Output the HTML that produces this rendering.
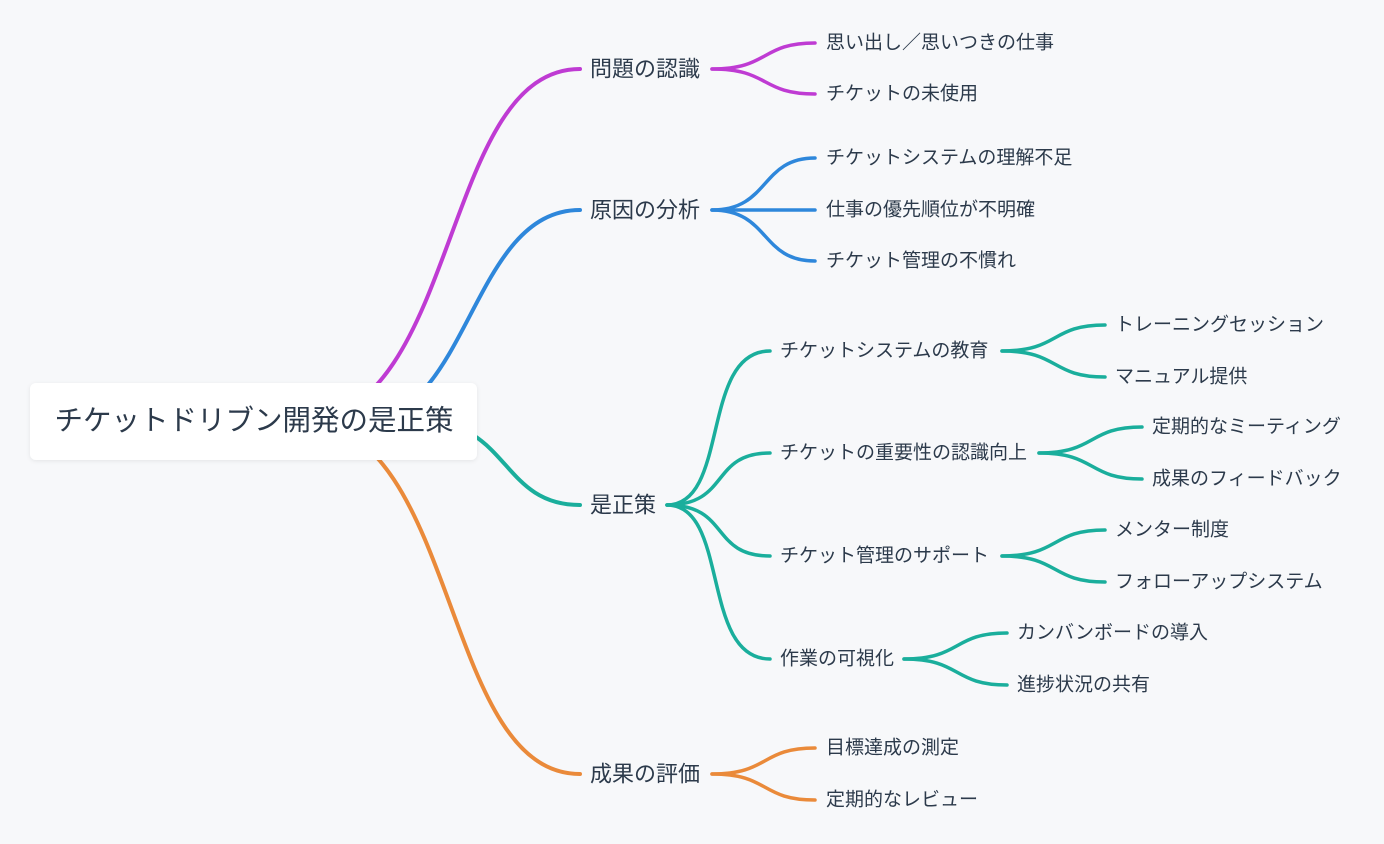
<!DOCTYPE html>
<html><head><meta charset="utf-8"><style>
html,body{margin:0;padding:0;background:#f7f8fa;}
svg{display:block;}
text{font-family:"Liberation Sans","Noto Sans CJK JP",sans-serif;fill:#2c3a4b;dominant-baseline:central;}
.l1{font-size:22px;}
.l2{font-size:19px;}
path{fill:none;stroke-linecap:round;}
</style></head><body>
<svg width="1384" height="844" viewBox="0 0 1384 844">
<defs><filter id="sh" x="-10%" y="-20%" width="120%" height="140%"><feDropShadow dx="0" dy="1" stdDeviation="2" flood-opacity="0.08"/></filter></defs>
<g stroke-width="4">
<path d="M300 421 C 460 421, 440 69, 580 69" stroke="#bf3bd3"/>
<path d="M360 421 C 470 421, 470 210, 580 210" stroke="#2e87db"/>
<path d="M420 421 C 510 421, 500 505, 580 505" stroke="#1aae9c"/>
<path d="M300 421 C 460 421, 440 774, 580 774" stroke="#ea8a3a"/>
</g>
<rect x="30" y="383" width="447" height="77" rx="6" fill="#fff" filter="url(#sh)"/>
<text x="254" y="421" text-anchor="middle" style="font-size:28.5px">チケットドリブン開発の是正策</text>
<text class="l1" x="590" y="69">問題の認識</text>
<text class="l1" x="590" y="210">原因の分析</text>
<text class="l1" x="590" y="505">是正策</text>
<text class="l1" x="590" y="774">成果の評価</text>
<g stroke-width="3.5">
<g stroke="#bf3bd3">
<path d="M712 69 C 770 69, 760 43, 815 43"/>
<path d="M712 69 C 770 69, 760 94, 815 94"/>
</g>
<g stroke="#2e87db">
<path d="M712 210 C 770 210, 760 158, 815 158"/>
<path d="M712 210 L 815 210"/>
<path d="M712 210 C 770 210, 760 261, 815 261"/>
</g>
<g stroke="#ea8a3a">
<path d="M712 774 C 770 774, 760 748, 815 748"/>
<path d="M712 774 C 770 774, 760 800, 815 800"/>
</g>
<g stroke="#1aae9c">
<path d="M667 505 C 730 505, 700 351, 770 351"/>
<path d="M667 505 C 730 505, 710 453, 770 453"/>
<path d="M667 505 C 730 505, 710 556, 770 556"/>
<path d="M667 505 C 730 505, 700 659, 770 659"/>
<path d="M1002 351 C 1060 351, 1050 325, 1105 325"/>
<path d="M1002 351 C 1060 351, 1050 377, 1105 377"/>
<path d="M1039 453 C 1097 453, 1087 427, 1142 427"/>
<path d="M1039 453 C 1097 453, 1087 479, 1142 479"/>
<path d="M1002 556 C 1060 556, 1050 530, 1105 530"/>
<path d="M1002 556 C 1060 556, 1050 582, 1105 582"/>
<path d="M904 659 C 962 659, 952 633, 1007 633"/>
<path d="M904 659 C 962 659, 952 685, 1007 685"/>
</g>
</g>
<text class="l2" x="826" y="43">思い出し／思いつきの仕事</text>
<text class="l2" x="826" y="94">チケットの未使用</text>
<text class="l2" x="826" y="158">チケットシステムの理解不足</text>
<text class="l2" x="826" y="210">仕事の優先順位が不明確</text>
<text class="l2" x="826" y="261">チケット管理の不慣れ</text>
<text class="l2" x="826" y="748">目標達成の測定</text>
<text class="l2" x="826" y="800">定期的なレビュー</text>
<text class="l2" x="780" y="351">チケットシステムの教育</text>
<text class="l2" x="780" y="453">チケットの重要性の認識向上</text>
<text class="l2" x="780" y="556">チケット管理のサポート</text>
<text class="l2" x="780" y="659">作業の可視化</text>
<text class="l2" x="1115" y="325">トレーニングセッション</text>
<text class="l2" x="1115" y="377">マニュアル提供</text>
<text class="l2" x="1152" y="427">定期的なミーティング</text>
<text class="l2" x="1152" y="479">成果のフィードバック</text>
<text class="l2" x="1115" y="530">メンター制度</text>
<text class="l2" x="1115" y="582">フォローアップシステム</text>
<text class="l2" x="1017" y="633">カンバンボードの導入</text>
<text class="l2" x="1017" y="685">進捗状況の共有</text>
</svg>
</body></html>
